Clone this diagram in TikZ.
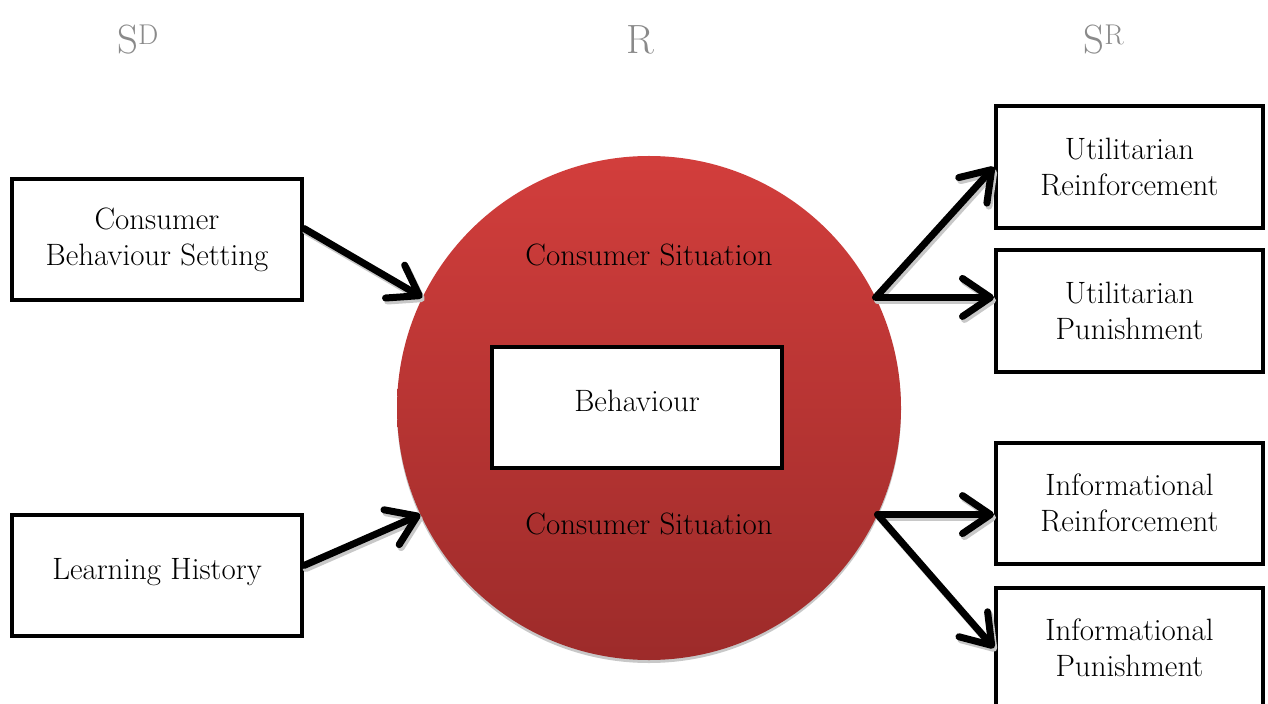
\documentclass[tikz,border=0pt]{standalone}
\usetikzlibrary{arrows.meta}
\definecolor{headgray}{HTML}{8A8A8A}
\definecolor{redtop}{HTML}{D23E3C}
\definecolor{redbot}{HTML}{9D2B2A}
\definecolor{shadowgray}{HTML}{C8C8C8}
\tikzset{
  box/.style={draw=black, line width=4bp, fill=white, minimum width=290bp,
    minimum height=121bp, inner sep=0pt, align=center, font=\fontsize{31}{36}\selectfont},
  rbox/.style={box, minimum width=267bp},
  head/.style={text=headgray, font=\fontsize{41}{44}\selectfont, inner sep=0pt},
  label/.style={font=\fontsize{31}{34}\selectfont, inner sep=0pt},
  conn/.style={line width=7bp, line cap=round,
    -{Straight Barb[length=28bp, width=38bp, round]},
    preaction={draw=shadowgray, line width=7bp, line cap=round,
      transform canvas={xshift=2bp, yshift=-3bp}}},
}
\newcommand{\lift}[1]{\raisebox{13bp}{#1}}
\begin{document}
\begin{tikzpicture}[x=1bp, y=-1bp]
\useasboundingbox (0,0) rectangle (1268,704);
\fill[white] (0,0) rectangle (1268,704);

% column headings
\node[head] (sd) at (138,40) {S\textsuperscript{D}};
\node[head] (r)  at (640,40) {R};
\node[head] (sr) at (1104,40) {S\textsuperscript{R}};

% central circle with its soft shadow
\fill[shadowgray] (649,411) circle[radius=252bp];
\node[circle, minimum size=504bp, inner sep=0pt, top color=redtop,
  bottom color=redbot] (circ) at (649,408) {};

\node[label] (cstop) at (649,255) {Consumer Situation};
\node[label] (csbot) at (649,524) {Consumer Situation};
\node[box] (beh) at (637,407) {\lift{Behaviour}};

% discriminative stimuli
\node[box] (cbs) at (157,239.5) {Consumer\\Behaviour Setting};
\node[box] (lh)  at (157,575.5) {\lift{Learning History}};

% consequences
\node[rbox] (ur) at (1129.5,167) {Utilitarian\\Reinforcement};
\node[rbox] (up) at (1129.5,311) {Utilitarian\\Punishment};
\node[rbox] (ir) at (1129.5,503) {Informational\\Reinforcement};
\node[rbox] (ip) at (1129.5,648) {Informational\\Punishment};

% connectors
\draw[conn] ([yshift=11bp]cbs.east) -- (circ.154);
\draw[conn] ([yshift=10bp]lh.east) -- (circ.205);
\draw[conn] (circ.26) -- (ur.west);
\draw[conn] (circ.26) -- (circ.26 -| up.west);
\draw[conn] (circ.-25.5) -- (circ.-25.5 -| ir.west);
\draw[conn] (circ.-25.5) -- (ip.west);
\end{tikzpicture}
\end{document}
